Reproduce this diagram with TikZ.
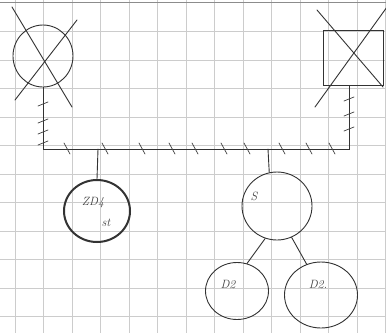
\documentclass[tikz,border=0pt]{standalone}
\usetikzlibrary{shapes.geometric}
\begin{document}
\begin{tikzpicture}[x=1pt,y=-1pt,
  pen/.style={draw=black!80,line width=0.9pt,line cap=round},
  person/.style={pen,ellipse,inner sep=0pt},
  tick/.style={draw=black!75,line width=0.7pt,line cap=round},
  lbl/.style={font=\large\itshape,text=black!75}]
\useasboundingbox (0,0) rectangle (386,333);
\fill[white] (0,0) rectangle (386,333);
% grid
\foreach \gx in {15,43.5,72,100.5,129,157.5,186,214.5,243,271.5,300,328.5,357,385.5}
  \draw[black!20,line width=0.7pt] (\gx,0) -- (\gx,333);
\foreach \gy in {31.5,60,88.5,117,145.5,174,202.5,231,259.5,288,316.5}
  \draw[black!20,line width=0.7pt] (0,\gy) -- (386,\gy);
\draw[black!45,line width=1pt] (0,2) -- (386,2);
% deceased woman
\node[person,minimum width=60pt,minimum height=62pt] (gm) at (43,56) {};
\draw[pen] (12,7) -- (72,107);
\draw[pen] (77,20) -- (15,100);
% deceased man
\node[pen,rectangle,minimum width=60pt,minimum height=55pt] (gf) at (353,57.5) {};
\draw[pen] (317,10) -- (383,87);
\draw[pen] (387,7) -- (315,107);
% marriage line
\coordinate (cl) at (43,149);
\coordinate (cr) at (349,149);
\coordinate (cz) at (98,149);
\coordinate (cs) at (268,149);
\draw[pen] (gm.south) -- (cl) -- (cr) -- (gf.south -| cr);
% ticks on left vertical
\foreach \ty in {104,121,132,143}
  \draw[tick] (38,\ty+2) -- (48,\ty-2);
% ticks on right vertical
\foreach \ty in {99,114,129}
  \draw[tick] (344,\ty+2) -- (354,\ty-2);
% ticks on horizontal
\foreach \tx in {67,105,142,172,195,224,247,282,309,332}
  \draw[tick] (\tx-3,143) -- (\tx+3,154);
% children
\node[person,line width=2pt,minimum width=66pt,minimum height=62pt] (z) at (97,211) {};
\node[lbl] at (93,203) {ZD4};
\node[lbl] at (106,223) {st};
\node[person,minimum width=70pt,minimum height=68pt] (s) at (277,206) {};
\node[lbl] at (254,196) {S};
\draw[pen] (cz) -- (z.north);
\draw[pen] (cs) -- (s.103);
% grandchildren
\node[person,minimum width=63pt,minimum height=57pt] (d1) at (237,291) {};
\node[lbl] at (228,285) {D2};
\node[person,minimum width=73pt,minimum height=66pt] (d2) at (321,295) {};
\node[lbl] at (318,285) {D2.};
\draw[pen] (s.250) -- (d1.70);
\draw[pen] (s.295) -- (d2.115);
\end{tikzpicture}
\end{document}
